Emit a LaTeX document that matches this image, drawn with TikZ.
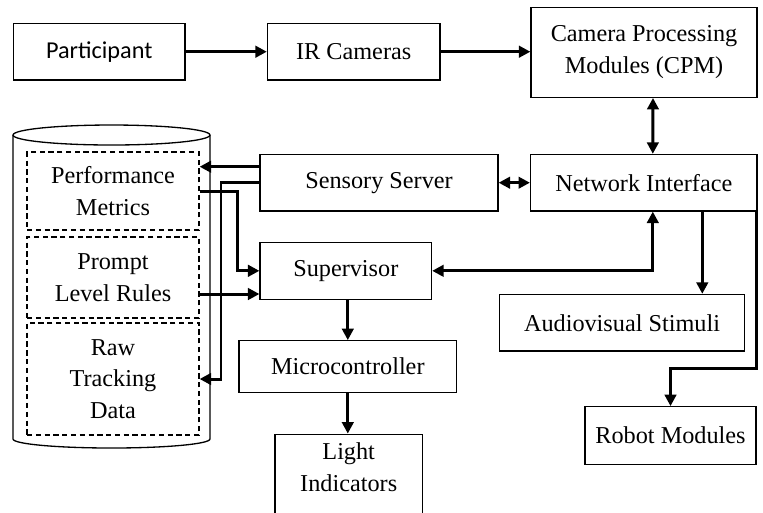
\documentclass[tikz,border=0pt]{standalone}
\usepackage{fontspec}
\setmainfont{Liberation Serif}
\newfontfamily\calibrifont{Carlito}
\usetikzlibrary{arrows.meta}

\begin{document}
\begin{tikzpicture}[x=0.02cm,y=-0.02cm,
    box/.style={draw,line width=0.75pt,inner sep=0pt,align=center,font=\rmfamily\fontsize{13.8}{18}\selectfont},
    dbox/.style={box,dash pattern=on 3pt off 2pt},
    arr/.style={line width=1.7pt,-{Triangle[length=6.5pt,width=6.5pt]}},
    darr/.style={arr,{Triangle[length=6.5pt,width=6.5pt]}-{Triangle[length=6.5pt,width=6.5pt]}}]
    \clip (0,0) rectangle (763,512);
    % database cylinder
    \draw[line width=0.75pt] (13,135) -- (13,439) arc[start angle=180,end angle=360,x radius=1.97cm,y radius=0.18cm] -- (210,135);
    \draw[line width=0.75pt] (111.5,135) ellipse[x radius=1.97cm,y radius=0.2cm];
    \begin{scope}
      \node[box,font=\calibrifont\fontsize{13.8}{18}\selectfont,minimum width=3.43cm,minimum height=1.13cm] (part) at (99.2,51.7) {Participant};
      \node[box,minimum width=3.45cm,minimum height=1.13cm] (ircam) at (353.7,51.7) {IR Cameras};
      \node[box,minimum width=4.52cm,minimum height=1.8cm] (cpm) at (644,52.3) {Camera Processing\\Modules (CPM)};
      \node[box,minimum width=4.76cm,minimum height=1.13cm] (sserver) at (379,182.7) {Sensory Server};
      \node[box,minimum width=4.53cm,minimum height=1.13cm] (netif) at (643.8,182.7) {Network Interface};
      \node[box,minimum width=3.43cm,minimum height=1.14cm] (superv) at (345.8,270.8) {Supervisor};
      \node[box,minimum width=4.9cm,minimum height=1.13cm] (avstim) at (622,322.7) {Audiovisual Stimuli};
      \node[box,minimum width=4.35cm,minimum height=1.03cm] (microc) at (347.8,366.5) {Microcontroller};
      \node[box,minimum width=2.95cm,minimum height=1.94cm] (light) at (348.7,482.7) {Light\\Indicators\\~};
      \node[box,minimum width=3.42cm,minimum height=1.15cm] (robot) at (670.5,435.5) {Robot Modules};
      \node[dbox,minimum width=3.44cm,minimum height=1.56cm] (perf) at (113,191) {Performance\\Metrics};
      \node[dbox,minimum width=3.44cm,minimum height=1.62cm] (prompt) at (113,277.5) {Prompt\\Level Rules};
      \node[dbox,minimum width=3.44cm,minimum height=2.24cm] (raw) at (113,379) {Raw\\Tracking\\Data};
    \end{scope}
    \coordinate (xa) at (221,0);
    \coordinate (xb) at (237.3,0);
    \coordinate (rbend) at (756.3,368.3);
    \begin{scope}
      \draw[arr] (part) -- (ircam);
      \draw[arr] (ircam.east) -- (ircam.east -| cpm.west);
      \draw[darr] ([xshift=0.18cm]netif.north) -- ([xshift=0.18cm]cpm.south);
      \draw[darr] (sserver) -- (netif);
      \draw[darr] (superv.east) -| ([xshift=0.18cm]netif.south);
      \draw[arr] ([xshift=1.17cm]netif.south) -- ([xshift=1.17cm]netif.south |- avstim.north);
      \draw[arr] (netif.south -| rbend) -- (rbend) -| (robot.north);
      \draw[arr] (superv.south -| microc.north) -- (microc.north);
      \draw[arr] (microc.south) -- (microc.south |- light.north);
      \draw[arr] ([yshift=0.32cm]sserver.west) -- ([yshift=0.32cm]sserver.west -| perf.east);
      \draw[arr] (sserver.west) -| (xa |- raw.east) -- (raw.east);
      \draw[arr] (perf.east) -| (xb |- superv.west) -- (superv.west);
      \draw[arr] ([yshift=-0.33cm]prompt.east) -- ([yshift=-0.33cm]prompt.east -| superv.west);
    \end{scope}
\end{tikzpicture}
\end{document}
